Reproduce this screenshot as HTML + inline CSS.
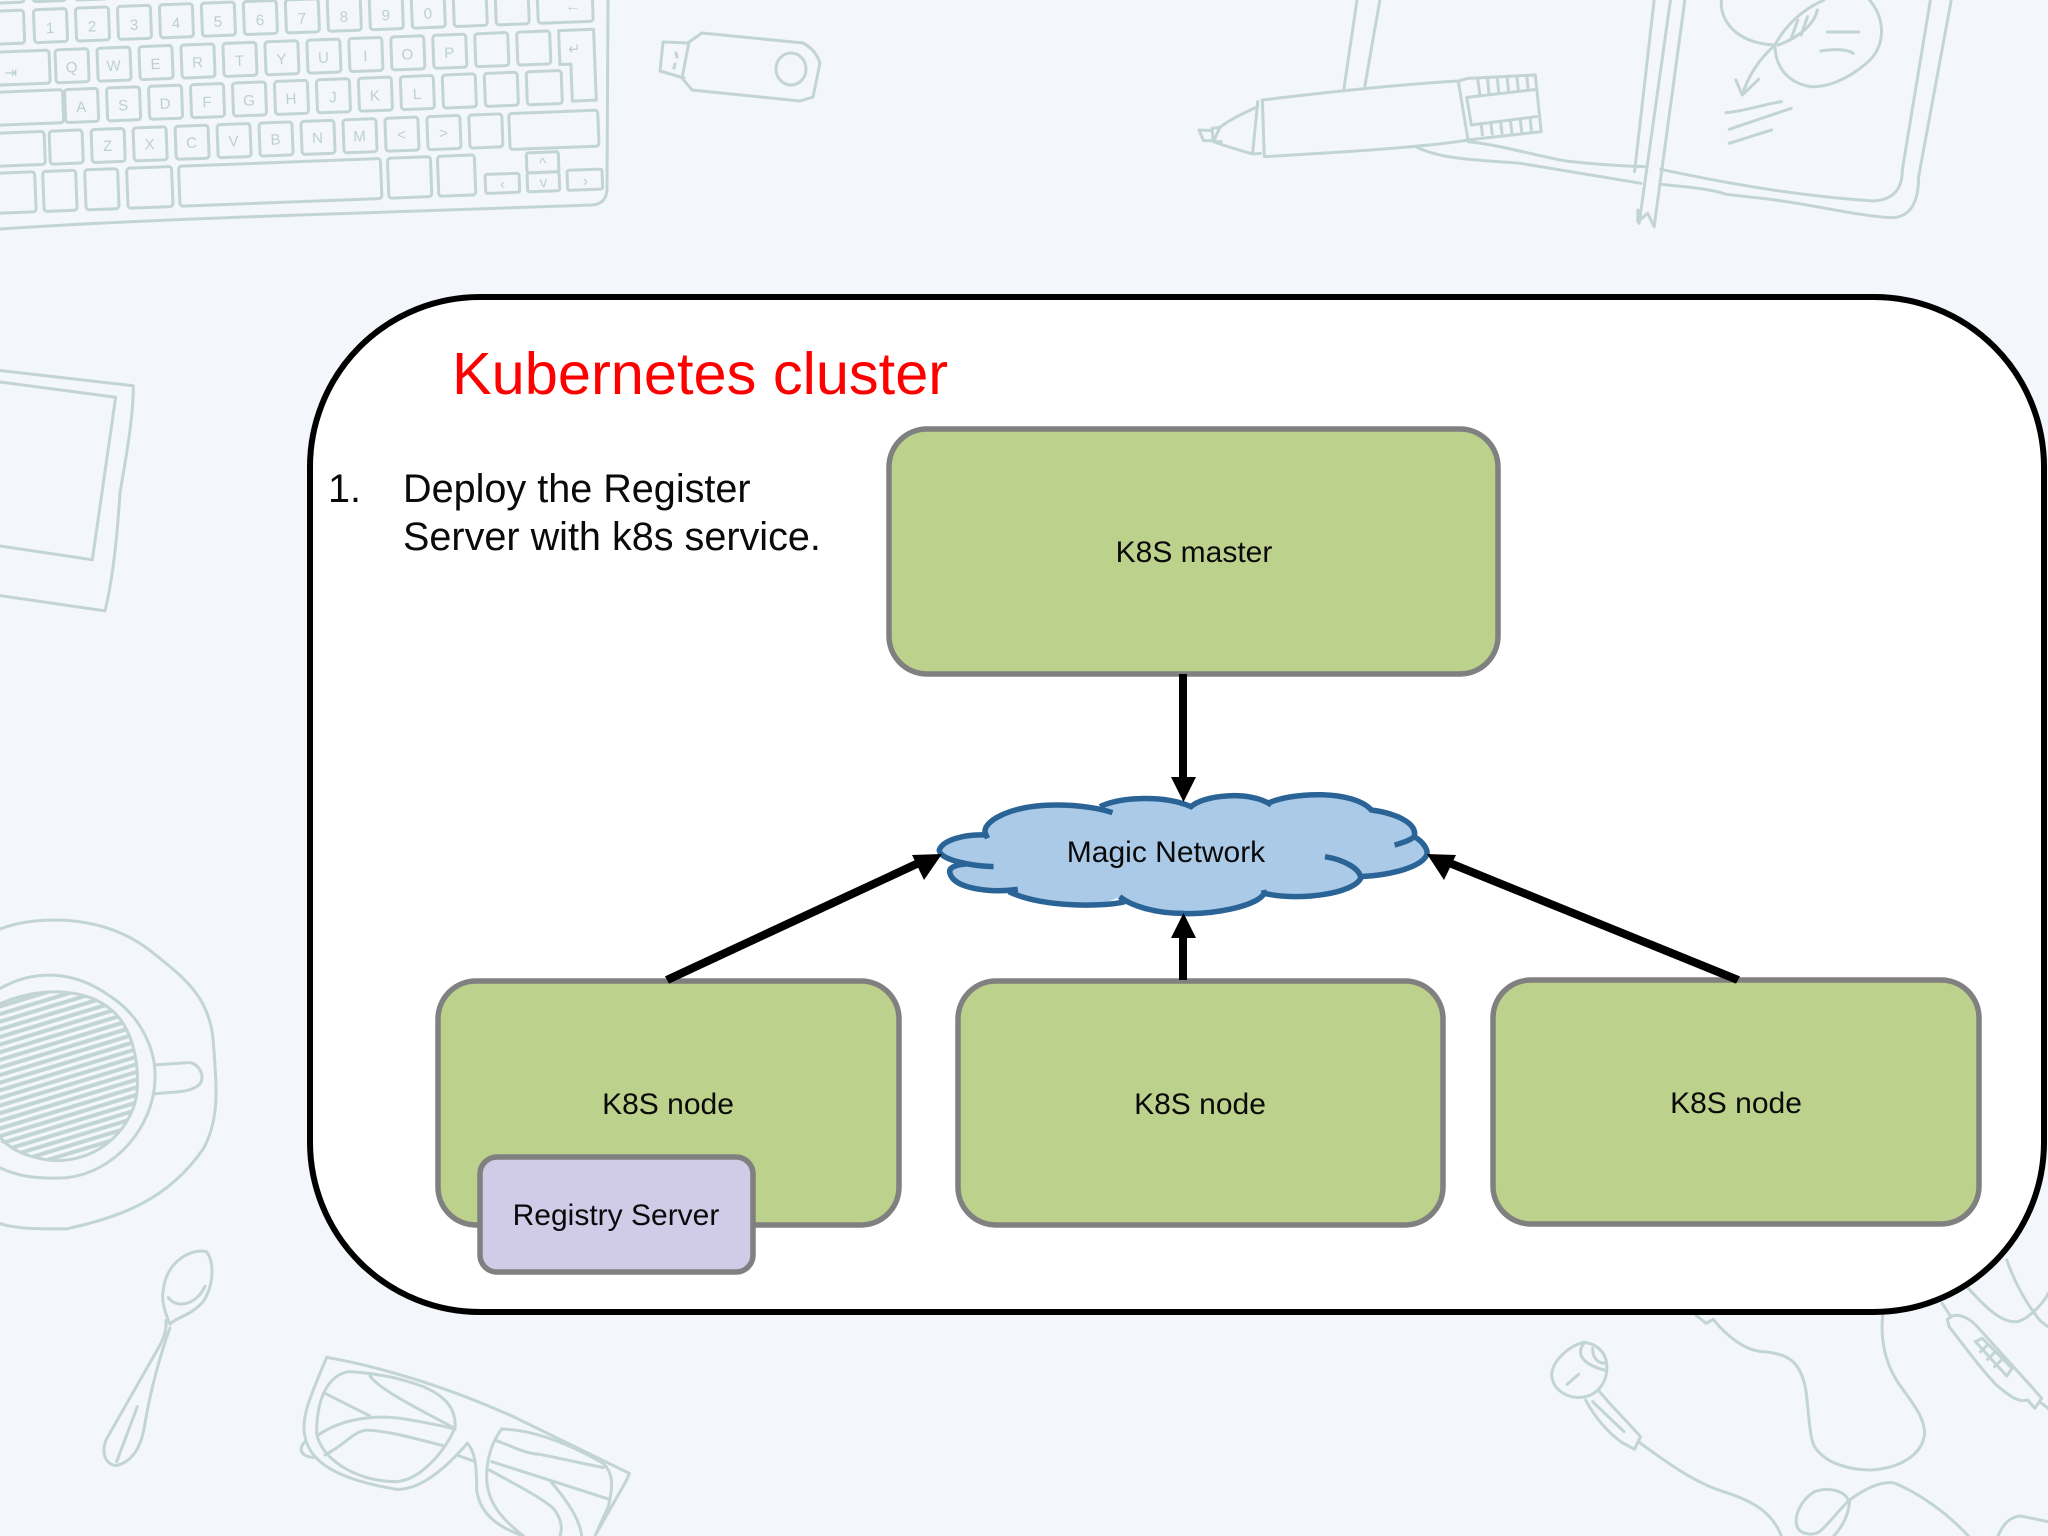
<!DOCTYPE html>
<html>
<head>
<meta charset="utf-8">
<style>
html,body{margin:0;padding:0;background:#f3f6fa;width:2048px;height:1536px;overflow:hidden}
svg{display:block}
.b path,.b rect,.b ellipse{fill:none;stroke:#c2d5d4;stroke-width:3;vector-effect:non-scaling-stroke;stroke-linejoin:round;stroke-linecap:round}
.k text{font:15px "Liberation Sans",sans-serif;fill:#bcd0cf;text-anchor:middle}
.b .h path{stroke-width:4}
.n{fill:#bcd18b;stroke:#808080;stroke-width:5.5}
.l{font-family:"Liberation Sans",sans-serif;fill:#0a0a0a;font-size:30px;text-anchor:middle}
</style>
</head>
<body>
<svg width="2048" height="1536" viewBox="0 0 2048 1536" xmlns="http://www.w3.org/2000/svg">
<rect width="2048" height="1536" fill="#f3f6fa"/>

<!-- keyboard -->
<g class="b k">
<path d="M608 0 L607 190 Q606 204 592 205 L300 215 Q100 222 0 229"/>
<g transform="rotate(-2.2)">
<rect x="-9" y="-30" width="33" height="33" rx="3"/><rect x="33" y="-30" width="33" height="33" rx="3"/><rect x="75" y="-30" width="33" height="33" rx="3"/><rect x="117" y="-30" width="33" height="33" rx="3"/>
<rect x="-20" y="11" width="43" height="33" rx="3"/>
<rect x="33" y="11" width="33" height="33" rx="3"/><rect x="75" y="11" width="33" height="33" rx="3"/><rect x="117" y="11" width="33" height="33" rx="3"/><rect x="159" y="11" width="33" height="33" rx="3"/><rect x="201" y="11" width="33" height="33" rx="3"/><rect x="243" y="11" width="33" height="33" rx="3"/><rect x="285" y="11" width="33" height="33" rx="3"/><rect x="327" y="11" width="33" height="33" rx="3"/><rect x="369" y="11" width="33" height="33" rx="3"/><rect x="411" y="11" width="33" height="33" rx="3"/><rect x="453" y="11" width="33" height="33" rx="3"/><rect x="495" y="11" width="33" height="33" rx="3"/><rect x="537" y="11" width="55" height="33" rx="3"/>
<text x="49" y="35">1</text><text x="91" y="35">2</text><text x="133" y="35">3</text><text x="175" y="35">4</text><text x="217" y="35">5</text><text x="259" y="35">6</text><text x="301" y="35">7</text><text x="343" y="35">8</text><text x="385" y="35">9</text><text x="427" y="35">0</text><text x="572" y="33">←</text>
<rect x="-20" y="52" width="67" height="33" rx="3"/>
<rect x="53" y="52" width="33" height="33" rx="3"/><rect x="95" y="52" width="33" height="33" rx="3"/><rect x="137" y="52" width="33" height="33" rx="3"/><rect x="179" y="52" width="33" height="33" rx="3"/><rect x="221" y="52" width="33" height="33" rx="3"/><rect x="263" y="52" width="33" height="33" rx="3"/><rect x="305" y="52" width="33" height="33" rx="3"/><rect x="347" y="52" width="33" height="33" rx="3"/><rect x="389" y="52" width="33" height="33" rx="3"/><rect x="431" y="52" width="33" height="33" rx="3"/><rect x="473" y="52" width="33" height="33" rx="3"/><rect x="515" y="52" width="33" height="33" rx="3"/>
<text x="69" y="75">Q</text><text x="111" y="75">W</text><text x="153" y="75">E</text><text x="195" y="75">R</text><text x="237" y="75">T</text><text x="279" y="75">Y</text><text x="321" y="75">U</text><text x="363" y="75">I</text><text x="405" y="75">O</text><text x="447" y="75">P</text><text x="572" y="76">↵</text><text x="8" y="78">⇥</text>
<path d="M557 52 L592 52 L592 123 L568 123 L568 86 L557 86 Z"/>
<rect x="-20" y="92" width="79" height="33" rx="3"/>
<rect x="61" y="92" width="33" height="33" rx="3"/><rect x="103" y="92" width="33" height="33" rx="3"/><rect x="145" y="92" width="33" height="33" rx="3"/><rect x="187" y="92" width="33" height="33" rx="3"/><rect x="229" y="92" width="33" height="33" rx="3"/><rect x="271" y="92" width="33" height="33" rx="3"/><rect x="313" y="92" width="33" height="33" rx="3"/><rect x="355" y="92" width="33" height="33" rx="3"/><rect x="397" y="92" width="33" height="33" rx="3"/><rect x="439" y="92" width="33" height="33" rx="3"/><rect x="481" y="92" width="33" height="33" rx="3"/><rect x="523" y="92" width="35" height="33" rx="3"/>
<text x="77" y="115">A</text><text x="119" y="115">S</text><text x="161" y="115">D</text><text x="203" y="115">F</text><text x="245" y="115">G</text><text x="287" y="115">H</text><text x="329" y="115">J</text><text x="371" y="115">K</text><text x="413" y="115">L</text>
<rect x="-20" y="133" width="59" height="33" rx="3"/><rect x="44" y="133" width="33" height="33" rx="3"/>
<rect x="86" y="133" width="33" height="33" rx="3"/><rect x="128" y="133" width="33" height="33" rx="3"/><rect x="170" y="133" width="33" height="33" rx="3"/><rect x="212" y="133" width="33" height="33" rx="3"/><rect x="254" y="133" width="33" height="33" rx="3"/><rect x="296" y="133" width="33" height="33" rx="3"/><rect x="338" y="133" width="33" height="33" rx="3"/><rect x="380" y="133" width="33" height="33" rx="3"/><rect x="422" y="133" width="33" height="33" rx="3"/><rect x="464" y="133" width="33" height="33" rx="3"/><rect x="504" y="133" width="89" height="36" rx="3"/>
<text x="102" y="155">Z</text><text x="144" y="155">X</text><text x="186" y="155">C</text><text x="228" y="155">V</text><text x="270" y="155">B</text><text x="312" y="155">N</text><text x="354" y="155">M</text><text x="396" y="155">&lt;</text><text x="438" y="155">&gt;</text>
<rect x="-20" y="173" width="48" height="40" rx="3"/><rect x="36" y="173" width="33" height="40" rx="3"/><rect x="78" y="173" width="33" height="40" rx="3"/><rect x="120" y="173" width="45" height="40" rx="3"/><rect x="172" y="173" width="202" height="40" rx="3"/><rect x="381" y="173" width="43" height="40" rx="3"/><rect x="431" y="173" width="37" height="40" rx="3"/>
<rect x="478" y="193" width="34" height="19" rx="2"/><rect x="520" y="173" width="32" height="20" rx="2"/><rect x="520" y="193" width="32" height="19" rx="2"/><rect x="560" y="192" width="35" height="20" rx="2"/>
<text x="495" y="208">‹</text><text x="536" y="189">^</text><text x="536" y="208">v</text><text x="578" y="208">›</text>
</g>
</g>

<!-- USB stick -->
<g class="b">
<path d="M689 42 L702 33 L803 43 Q816 50 820 63 L813 97 L800 101 L692 90 L682 78 Z"/>
<path d="M689 43 L663 42 L660 71 L684 78"/>
<path d="M676 53 L677 57 M675 64 L674 68"/>
<ellipse cx="791" cy="69" rx="15" ry="16"/>
</g>

<!-- pen + notebook -->
<g class="b" transform="translate(1024,0) scale(.653,.3333)">
<path d="M510 0 L490 265 M545 0 L522 258"/>
<path d="M365 300 C450 280 560 255 665 243 L680 420 C620 440 500 455 368 470 Z"/>
<path d="M358 305 L350 462 L362 460 M358 320 C330 345 315 360 300 382 L290 425 C310 440 330 450 350 462"/>
<path d="M300 382 L288 385 L290 425 L302 425 M288 392 L268 390 L275 422 L290 422"/>
<path d="M665 243 L680 235 L783 225 L792 395 L680 420"/>
<path d="M678 292 L785 268 M678 292 L685 375 L785 350"/>
<path d="M695 240 L698 282 M710 238 L712 280 M725 236 L727 276 M740 234 L742 274 M755 232 L757 270 M770 230 L772 266"/>
<path d="M700 370 L702 405 M715 368 L717 402 M730 365 L732 400 M745 362 L747 397 M760 358 L762 394 M775 354 L777 391"/>
<path d="M965 0 L935 515 M990 0 L942 670 M1012 0 L965 680 M940 630 L940 665 L955 640 L965 680"/>
<path d="M1388 0 L1345 510 C1345 570 1330 600 1300 603 C1200 590 1100 560 975 508"/>
<path d="M1420 0 L1370 530 C1370 600 1360 650 1330 653 C1280 650 1200 610 1130 595 L1075 583 C1050 565 1000 558 975 553"/>
<path d="M600 440 C640 480 700 480 760 490 L945 550 M680 425 C730 435 790 470 830 483 C860 490 900 497 950 500"/>
<path d="M1068 0 C1065 60 1090 130 1150 135 M1295 0 C1320 60 1320 140 1290 190 C1260 240 1230 262 1205 260 C1170 250 1150 200 1150 135"/>
<path d="M1225 0 C1190 30 1165 80 1150 135 M1215 30 C1210 70 1190 110 1155 135 M1185 60 L1175 115 M1200 50 L1190 105"/>
<path d="M1150 135 C1130 170 1110 220 1100 285 M1090 240 L1100 285 L1125 238"/>
<path d="M1230 96 L1278 96 M1220 153 C1240 147 1260 147 1270 160 M1075 338 C1100 335 1140 310 1160 305 M1080 388 L1175 325 M1080 430 L1145 390"/>
</g>

<!-- left frame, coffee, spoon -->
<g class="b" transform="translate(0,340) scale(.3333,.763)">
<clipPath id="cof"><path d="M-20 870 C100 850 250 845 340 880 C400 905 420 950 410 990 C390 1040 280 1080 150 1075 C70 1070 30 1060 -20 1045 Z"/></clipPath>
<path d="M0 40 L400 60 C400 100 380 150 360 200 C350 270 335 320 315 355 L0 335"/>
<path d="M0 55 L347 75 L277 288 L0 270"/>
<path d="M0 772 C100 755 300 750 450 800 C550 835 630 860 640 920 C650 980 660 1020 610 1060 C500 1130 350 1150 200 1165 C100 1165 50 1165 0 1158"/>
<path d="M0 850 C100 825 220 825 330 860 C420 885 470 930 465 970 C460 1030 350 1090 200 1098 C100 1100 50 1095 0 1085"/>
<path d="M0 870 C100 850 250 845 340 880 C400 905 420 950 410 990 C390 1040 280 1080 150 1075 C70 1070 30 1060 0 1045"/>
<path d="M465 950 L570 947 C600 950 615 965 600 975 C570 988 510 985 465 988"/>
<g class="h" clip-path="url(#cof)">
<path d="M-50 880 L450 814 M-50 890 L450 824 M-50 900 L450 834 M-50 910 L450 844 M-50 920 L450 854 M-50 930 L450 864 M-50 940 L450 874 M-50 950 L450 884 M-50 960 L450 894 M-50 970 L450 904 M-50 980 L450 914 M-50 990 L450 924 M-50 1000 L450 934 M-50 1010 L450 944 M-50 1020 L450 954 M-50 1030 L450 964 M-50 1040 L450 974 M-50 1050 L450 984 M-50 1060 L450 994 M-50 1070 L450 1004 M-50 1080 L450 1014 M-50 1090 L450 1024 M-50 1100 L450 1034 M-50 1110 L450 1044 M-50 1120 L450 1054 M-50 1130 L450 1064 M-50 1140 L450 1074"/>
</g>
<path d="M490 1245 C500 1205 580 1190 620 1195 C645 1210 640 1240 610 1260 C570 1280 530 1280 510 1290 C490 1270 485 1255 490 1245"/>
<path d="M505 1255 C530 1270 590 1265 615 1240"/>
<path d="M498 1285 C500 1300 490 1310 470 1325 L320 1440 C300 1460 320 1475 350 1475 C400 1470 425 1450 435 1420 C450 1380 480 1330 510 1295"/>
<path d="M350 1470 L412 1398"/>
</g>

<!-- glasses -->
<g class="b" transform="translate(280,1300) scale(.3333)">
<path d="M140 172 C300 200 500 260 700 350 L1048 520 L1040 540 L945 708"/>
<path d="M140 172 C100 270 60 350 75 410 C90 490 180 540 350 568 C430 570 510 490 562 430 C590 460 590 520 590 570 C600 640 650 680 730 708"/>
<path d="M210 215 C160 220 110 270 110 400 C120 470 220 545 350 545 C420 540 490 460 525 385 C530 330 500 290 430 260 C350 230 280 220 210 215"/>
<path d="M270 228 C300 270 420 330 525 385 M135 280 L270 348 M115 405 C180 360 280 340 380 358 C450 370 500 380 525 388 M135 465 C200 430 220 395 260 390 C340 395 420 420 490 437"/>
<path d="M665 387 C640 420 620 470 620 530 C620 610 670 660 730 708 M665 387 C780 390 900 450 970 490 C1000 520 1000 560 985 620 L945 708"/>
<path d="M650 422 C700 440 730 460 780 463 L970 503 M635 485 L985 597 M628 510 C700 550 780 590 820 625 C840 650 850 680 840 708 M815 548 C860 600 900 660 905 708"/>
<path d="M530 465 L585 485 M75 425 C55 445 60 470 100 472"/>
</g>

<!-- earphones -->
<g class="b" transform="translate(1500,1260) scale(.3495,.3333)">
<path d="M240 247 C190 260 145 310 148 350 C155 395 200 420 245 410 C285 400 310 360 305 310 C300 270 270 250 240 247"/>
<path d="M240 250 C215 285 240 315 305 332 M265 265 C265 295 280 310 302 310 M192 373 L225 343"/>
<path d="M245 420 C270 470 310 520 350 548 L385 568 L402 530 C360 480 320 440 285 395 M265 425 L355 515"/>
<path d="M400 548 C480 610 560 670 640 695 C730 725 780 760 805 828"/>
<path d="M610 178 C650 230 700 270 750 275 C820 280 860 300 875 390 C885 470 885 530 900 560 C930 610 1000 630 1060 630 C1150 625 1210 580 1215 520 C1215 450 1140 390 1115 320 C1095 270 1090 220 1095 165"/>
<path d="M560 165 L590 190 L610 178"/>
<path d="M1000 730 C990 690 940 680 900 695 C860 720 840 770 850 800 C860 825 900 830 920 810 C950 780 970 750 1000 720 C1040 690 1090 660 1130 670 C1200 700 1280 760 1340 828 M1000 720 C1000 760 980 800 955 828 M1425 828 C1440 790 1460 770 1490 768 L1568 785"/>
<path d="M1265 130 L1290 170 M1285 200 L1280 178 L1295 168 C1320 160 1350 180 1370 205 L1525 385 L1550 415 L1530 445 L1510 420 C1480 430 1450 400 1420 375 C1370 320 1330 260 1285 200"/>
<path d="M1360 245 L1380 235 L1465 325 L1450 348 Z M1395 255 L1375 275 M1415 278 L1395 298 M1435 300 L1415 320"/>
<path d="M1550 430 L1568 445 M1340 85 C1380 130 1430 190 1480 185 C1520 175 1568 110 1568 100 M1450 0 C1470 60 1500 120 1530 160 C1540 180 1560 195 1568 200"/>
</g>

<!-- container -->
<rect x="310" y="297" width="1734" height="1015" rx="170" ry="170" fill="#fff" stroke="#000" stroke-width="6"/>

<text x="452" y="394" font-family="Liberation Sans, sans-serif" font-size="59.5" fill="#ff0000">Kubernetes cluster</text>
<g font-family="Liberation Sans, sans-serif" font-size="39.6" fill="#0a0a0a">
<text x="328" y="502">1.</text>
<text x="403" y="502">Deploy the Register</text>
<text x="403" y="550">Server with k8s service.</text>
</g>

<!-- nodes -->
<rect class="n" x="889" y="429" width="609" height="245" rx="38"/>
<rect class="n" x="438" y="981" width="461" height="244" rx="38"/>
<rect class="n" x="958" y="981" width="485" height="244" rx="38"/>
<rect class="n" x="1493" y="980" width="486" height="244" rx="38"/>
<rect x="480" y="1157" width="273" height="115" rx="17" fill="#d0cce8" stroke="#808080" stroke-width="5.500"/>

<text class="l" x="1194" y="562">K8S master</text>
<text class="l" x="668" y="1114">K8S node</text>
<text class="l" x="1200" y="1114">K8S node</text>
<text class="l" x="1736" y="1113">K8S node</text>
<text class="l" x="616" y="1225">Registry Server</text>

<!-- cloud -->
<g transform="translate(900,760) scale(.3571,.3333)">
<path fill="#abcae8" d="M110 270 C120 240 180 222 240 222 C225 190 300 135 440 135 C490 135 530 140 560 140 C620 110 740 105 815 140 C850 105 980 90 1035 135 C1100 95 1270 90 1320 150 C1390 160 1450 190 1440 230 C1465 245 1480 270 1475 285 C1460 320 1380 345 1290 350 C1270 400 1120 425 1020 400 C1000 440 870 465 790 460 C720 460 650 440 615 410 C580 440 400 445 305 395 C250 400 150 385 140 340 C135 325 150 315 185 312 C140 305 110 290 110 270 Z"/>
<g fill="none" stroke="#2a6496" stroke-width="5.500">
<path style="vector-effect:non-scaling-stroke" d="M245 235 L240 222 C225 190 300 135 440 135 C500 135 560 145 595 158"/>
<path style="vector-effect:non-scaling-stroke" d="M560 140 C620 110 740 105 815 140 C850 105 980 90 1040 135"/>
<path style="vector-effect:non-scaling-stroke" d="M1030 130 C1100 95 1270 90 1320 150 C1390 160 1450 190 1440 230"/>
<path style="vector-effect:non-scaling-stroke" d="M1385 255 C1410 248 1430 240 1440 230 C1465 245 1480 270 1475 285 C1460 320 1380 345 1290 350"/>
<path style="vector-effect:non-scaling-stroke" d="M1190 290 C1250 300 1290 330 1290 355 C1270 400 1120 425 1020 400 L1018 390"/>
<path style="vector-effect:non-scaling-stroke" d="M1020 400 C1000 440 870 465 790 460 C720 460 650 440 615 410"/>
<path style="vector-effect:non-scaling-stroke" d="M630 425 C580 440 400 445 305 395"/>
<path style="vector-effect:non-scaling-stroke" d="M330 388 C250 400 150 385 140 340 C135 325 150 315 185 312"/>
<path style="vector-effect:non-scaling-stroke" d="M262 320 C200 318 110 300 110 270 C120 240 180 222 240 225"/>
</g>
</g>
<text class="l" x="1166" y="862">Magic Network</text>

<!-- arrows -->
<g fill="#000" stroke="none">
<rect x="1179" y="674" width="8" height="105"/>
<path d="M1171 777 L1196 777 L1183.500 802 Z"/>
<rect x="1179" y="936" width="8" height="44"/>
<path d="M1171 938 L1196 938 L1183.500 913 Z"/>
<path d="M665 976.400 L669 983.600 L922 866 L918 858.800 Z"/>
<path d="M942 854 L912 855 L924 880 Z"/>
<path d="M1740 976.400 L1736 983.600 L1446 866 L1450 858.800 Z"/>
<path d="M1427 854 L1456 855 L1444 880 Z"/>
</g>
</svg>
</body>
</html>
